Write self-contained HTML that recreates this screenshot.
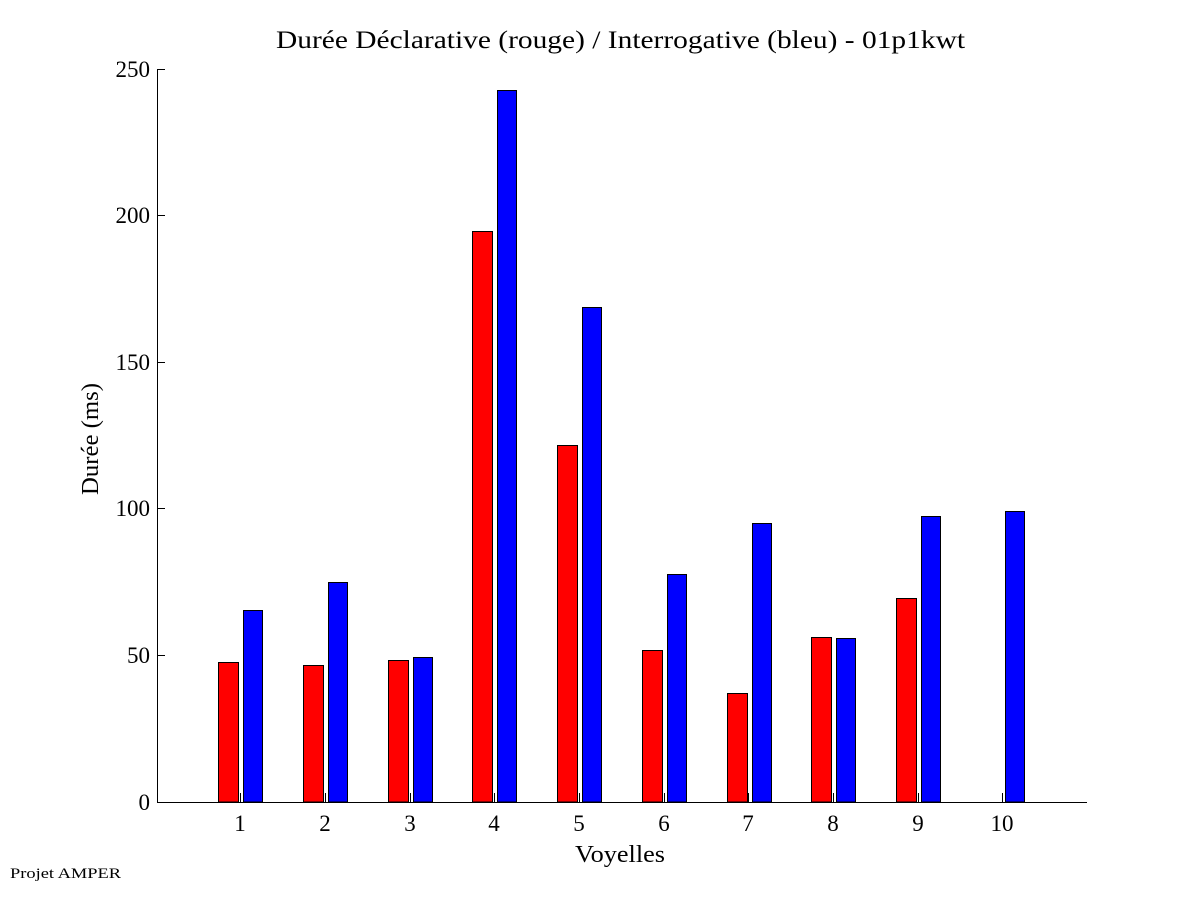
<!DOCTYPE html>
<html><head><meta charset="utf-8"><style>
html,body{margin:0;padding:0;background:#fff;}
svg{display:block;}
text{font-family:"Liberation Serif",serif;fill:#000;}
</style></head><body>
<svg width="1201" height="901" viewBox="0 0 1201 901" xmlns="http://www.w3.org/2000/svg">
<rect width="1201" height="901" fill="#fff"/>
<text x="276" y="48" font-size="25" textLength="689" lengthAdjust="spacingAndGlyphs">Durée Déclarative (rouge) / Interrogative (bleu) - 01p1kwt</text>
<g stroke="#000" stroke-width="1">
<rect x="218.5" y="662.5" width="20" height="139.5" fill="#ff0000"/>
<rect x="243.5" y="610.5" width="19" height="191.5" fill="#0000ff"/>
<rect x="303.5" y="665.5" width="20" height="136.5" fill="#ff0000"/>
<rect x="328.5" y="582.5" width="19" height="219.5" fill="#0000ff"/>
<rect x="388.5" y="660.5" width="20" height="141.5" fill="#ff0000"/>
<rect x="413.5" y="657.5" width="19" height="144.5" fill="#0000ff"/>
<rect x="472.5" y="231.5" width="20" height="570.5" fill="#ff0000"/>
<rect x="497.5" y="90.5" width="19" height="711.5" fill="#0000ff"/>
<rect x="557.5" y="445.5" width="20" height="356.5" fill="#ff0000"/>
<rect x="582.5" y="307.5" width="19" height="494.5" fill="#0000ff"/>
<rect x="642.5" y="650.5" width="20" height="151.5" fill="#ff0000"/>
<rect x="667.5" y="574.5" width="19" height="227.5" fill="#0000ff"/>
<rect x="727.5" y="693.5" width="20" height="108.5" fill="#ff0000"/>
<rect x="752.5" y="523.5" width="19" height="278.5" fill="#0000ff"/>
<rect x="811.5" y="637.5" width="20" height="164.5" fill="#ff0000"/>
<rect x="836.5" y="638.5" width="19" height="163.5" fill="#0000ff"/>
<rect x="896.5" y="598.5" width="20" height="203.5" fill="#ff0000"/>
<rect x="921.5" y="516.5" width="19" height="285.5" fill="#0000ff"/>
<rect x="1005.5" y="511.5" width="19" height="290.5" fill="#0000ff"/>
</g>
<g stroke="#000" stroke-width="1" fill="none">
<path d="M157.5 69 V802.5 H1087"/>
<path d="M157 69.5h8M157 215.5h8M157 362.5h8M157 508.5h8M157 655.5h8"/>
<path d="M240.5 802v-9M325.5 802v-9M410.5 802v-9M494.5 802v-9M579.5 802v-9M664.5 802v-9M748.5 802v-9M833.5 802v-9M918.5 802v-9M1002.5 802v-9"/>
</g>
<g font-size="23" text-anchor="end">
<text x="150" y="77">250</text>
<text x="150" y="223">200</text>
<text x="150" y="370">150</text>
<text x="150" y="516">100</text>
<text x="150" y="663">50</text>
<text x="150" y="810">0</text>
</g>
<g font-size="23" text-anchor="middle">
<text x="240" y="831">1</text>
<text x="325" y="831">2</text>
<text x="410" y="831">3</text>
<text x="494" y="831">4</text>
<text x="579" y="831">5</text>
<text x="664" y="831">6</text>
<text x="748" y="831">7</text>
<text x="833" y="831">8</text>
<text x="918" y="831">9</text>
<text x="1002" y="831">10</text>
</g>
<text x="575" y="862" font-size="24" textLength="90" lengthAdjust="spacingAndGlyphs">Voyelles</text>
<text transform="translate(98,495) rotate(-90)" font-size="24" textLength="112" lengthAdjust="spacingAndGlyphs">Durée (ms)</text>
<text x="10" y="878" font-size="15" textLength="111" lengthAdjust="spacingAndGlyphs">Projet AMPER</text>
</svg>
</body></html>
